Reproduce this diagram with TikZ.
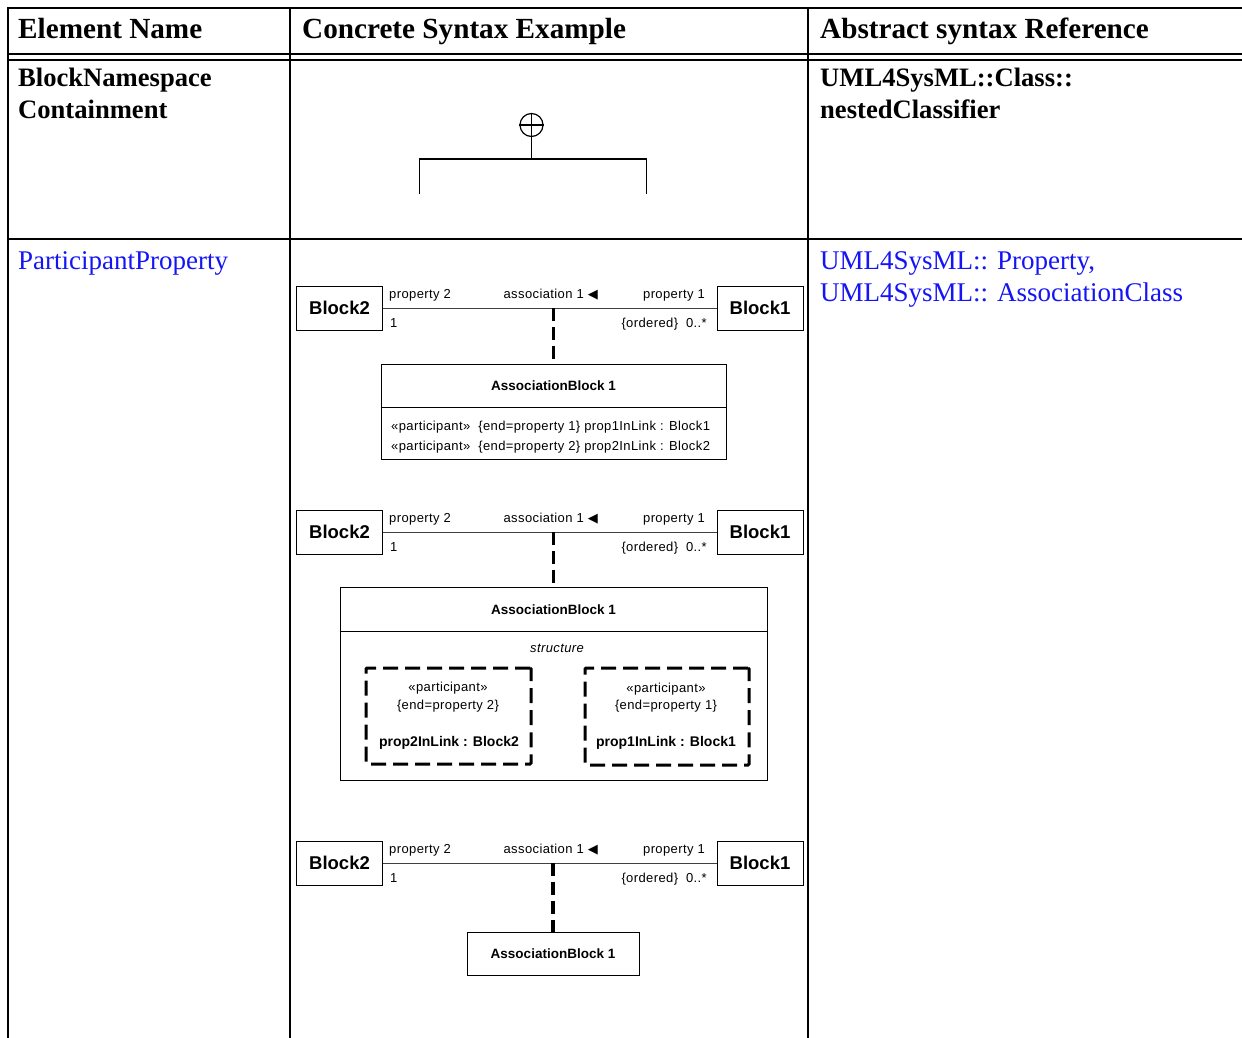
\documentclass[tikz,border=0pt]{standalone}
\usepackage{fontspec}
\setmainfont{Liberation Serif}
\newfontfamily\diagfont{Liberation Sans}
\newfontfamily\diagsp[LetterSpace=3]{Liberation Sans}
\newfontfamily\symfont{DejaVu Sans}
\definecolor{linkblue}{RGB}{20,20,245}
\tikzset{
  tl/.style={line width=2pt},
  hdr/.style={inner sep=0pt, anchor=base west, font=\fontsize{29.2}{32}\selectfont\bfseries},
  cellb/.style={inner sep=0pt, anchor=base west, font=\fontsize{26.6}{32}\selectfont\bfseries},
  cell/.style={inner sep=0pt, anchor=base west, font=\fontsize{27}{32}\selectfont},
  blockbox/.style={draw, line width=1pt, minimum width=86pt, minimum height=44pt, inner sep=0pt,
    font=\diagfont\fontsize{18.5}{20}\selectfont\bfseries},
  lab/.style={inner sep=0pt, font=\diagsp\fontsize{13}{15}\selectfont},
  titlelab/.style={inner sep=0pt, anchor=base, font=\diagfont\fontsize{13.5}{15}\selectfont\bfseries},
  partlab/.style={inner sep=0pt, anchor=base, font=\diagfont\fontsize{14}{16}\selectfont\bfseries},
  assoc/.style={line width=1pt, draw=black!75},
  dashcon/.style={line width=3.5pt, dash pattern=on 13pt off 6pt},
  dashbox/.style={draw, line width=3pt, dash pattern=on 15pt off 7pt, rounded corners=1pt, inner sep=0pt},
  umlbox/.style={draw, line width=1pt, inner sep=0pt},
  thinl/.style={line width=1.2pt},
}
\newcommand\assocpair[2]{%
  \begin{scope}[shift={(0,#2)}]
    \node[blockbox] (#1L) at (339.5,308) {Block2};
    \node[blockbox] (#1R) at (760,308) {Block1};
    \draw[assoc] (#1L.east) -- (#1R.west);
    \node[lab, anchor=base west] (#1pa) at (389,298) {property 2};
    \node[lab, anchor=base west] (#1ma) at (390,327) {1};
    \node[lab, anchor=base east] (#1as) at (598,298) {association 1 {\symfont ◀}};
    \node[lab, anchor=base east] (#1pb) at (705,298) {property 1};
    \node[lab, anchor=base east] (#1mb) at (707,327) {\{ordered\}\hspace{8pt}0..*};
  \end{scope}}
\begin{document}
\begin{tikzpicture}[x=1pt,y=-1pt]
\useasboundingbox (0,0) rectangle (1242,1038);
% table rules
\draw[tl] (7,8) -- (1242,8);
\draw[tl] (7,54) -- (1242,54);
\draw[tl] (7,60) -- (1242,60);
\draw[tl] (7,239) -- (1242,239);
\draw[tl] (7.5,7) -- (7.5,1038);
\draw[tl] (290,7) -- (290,1038);
\draw[tl] (808,7) -- (808,1038);
% header
\node[hdr] (h1) at (18,39) {Element Name};
\node[hdr] (h2) at (302,39) {Concrete Syntax Example};
\node[hdr] (h3) at (820,39) {Abstract syntax Reference};
% row 1
\node[cellb] (r1a) at (18,87) {BlockNamespace};
\node[cellb] (r1b) at (18,119) {Containment};
\node[cellb] (r1c) at (820,87) {UML4SysML::Class::};
\node[cellb] (r1d) at (820,119) {nestedClassifier};
% containment symbol
\node[circle, draw, thinl, minimum size=23pt, inner sep=0pt] (ns) at (531.5,125) {};
\draw[thinl] (ns.north) -- (ns.south);
\draw[thinl] (ns.west) -- (ns.east);
\coordinate (nsj) at (531.5,159);
\coordinate (nsl) at (419.5,194);
\coordinate (nsr) at (646.5,194);
\draw[thinl] (ns.south) -- (nsj);
\draw[thinl] (nsl) |- (nsj) -| (nsr);
% row 2
\node[cell, text=linkblue] (r2a) at (18,269) {ParticipantProperty};
\node[cell, text=linkblue] (r2b) at (820,269) {UML4SysML:: Property,};
\node[cell, text=linkblue] (r2c) at (820,301) {UML4SysML:: AssociationClass};
% diagram 1
\assocpair{d1}{0}
\node[umlbox, minimum width=345pt, minimum height=95pt] (ab1) at (553.5,411.5) {};
\draw[line width=1pt] ([yshift=-44pt]ab1.north west) -- ([yshift=-44pt]ab1.north east);
\node[titlelab] (ab1t) at (553.5,390) {AssociationBlock 1};
\node[lab, anchor=base west] (ab1a) at (391,430.5) {«participant»~~\{end=property 1\} prop1InLink : Block1};
\node[lab, anchor=base west] (ab1b) at (391,450.5) {«participant»~~\{end=property 2\} prop2InLink : Block2};
\draw[dashcon] (ab1.north |- d1L.east) -- (ab1.north);
% diagram 2
\assocpair{d2}{224}
\node[umlbox, minimum width=427pt, minimum height=193pt] (ab2) at (553.5,683.5) {};
\draw[line width=1pt] ([yshift=-44.5pt]ab2.north west) -- ([yshift=-44.5pt]ab2.north east);
\node[titlelab] (ab2t) at (553.5,614) {AssociationBlock 1};
\node[lab, anchor=base, font=\diagsp\fontsize{13}{15}\selectfont\itshape] (ab2s) at (557,652.5) {structure};
\node[dashbox, minimum width=165pt, minimum height=96pt] (pb2) at (448.5,716) {};
\node[dashbox, minimum width=164pt, minimum height=97pt] (pb1) at (667,716.5) {};
\node[lab, anchor=base] (pb2a) at (448,691) {«participant»};
\node[lab, anchor=base] (pb2b) at (448,709.5) {\{end=property 2\}};
\node[partlab] (pb2c) at (449,746) {prop2InLink : Block2};
\node[lab, anchor=base] (pb1a) at (666,692) {«participant»};
\node[lab, anchor=base] (pb1b) at (666,709.5) {\{end=property 1\}};
\node[partlab] (pb1c) at (666,746) {prop1InLink : Block1};
\draw[dashcon] (ab2.north |- d2L.east) -- (ab2.north);
% diagram 3
\assocpair{d3}{555}
\node[umlbox, minimum width=172pt, minimum height=43pt] (ab3) at (553,953.5) {};
\node[titlelab] (ab3t) at (553,958) {AssociationBlock 1};
\draw[dashcon] (ab3.north |- d3L.east) -- (ab3.north);
\end{tikzpicture}
\end{document}
